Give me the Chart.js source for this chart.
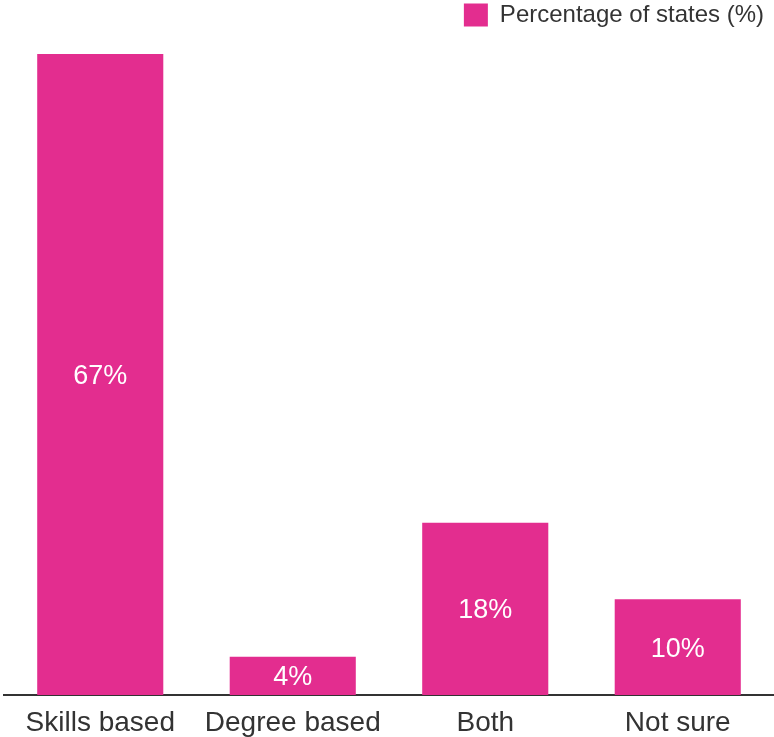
<!DOCTYPE html>
<html>
<head>
<meta charset="utf-8">
<script src="https://cdn.jsdelivr.net/npm/chart.js@4/dist/chart.umd.min.js"></script>
<style>
  html, body { margin: 0; padding: 0; background: #fff; }
  #wrap { width: 774px; height: 737px; }
</style>
</head>
<body>
<div id="wrap"><canvas id="barChart"></canvas></div>
<script>
// Hiring approach survey
const categories = ['Skills based', 'Degree based', 'Both', 'Not sure'];
const shares = [67, 4, 18, 10];
const seriesLabel = 'Percentage of states (%)';

const barColor = '#e32d8f';
const textColor = '#333333';

// white value text centred inside each bar
const insideLabels = {
    id: 'insideLabels',
    afterDatasetsDraw(chart) {
        const ctx = chart.ctx;
        const meta = chart.getDatasetMeta(0);
        ctx.save();
        ctx.fillStyle = '#ffffff';
        ctx.font = '27px "Liberation Sans", Arial, sans-serif';
        ctx.textAlign = 'center';
        ctx.textBaseline = 'middle';
        meta.data.forEach((bar, i) => {
            const mid = (bar.y + bar.base) / 2;
            ctx.fillText(shares[i] + '%', bar.x, mid + 2);
        });
        ctx.restore();
    }
};

// extra room under the legend before the bars start
const legendGap = {
    id: 'legendGap',
    beforeInit(chart) {
        const fit = chart.legend.fit;
        chart.legend.fit = function () {
            fit.bind(chart.legend)();
            this.height += 17;
        };
    }
};

Chart.defaults.font.family = '"Liberation Sans", Arial, sans-serif';
Chart.defaults.color = textColor;

new Chart(document.getElementById('barChart'), {
    type: 'bar',
    data: {
        labels: categories,
        datasets: [{
            label: seriesLabel,
            data: shares,
            backgroundColor: barColor,
            barPercentage: 0.655,
            categoryPercentage: 1
        }]
    },
    options: {
        responsive: true,
        maintainAspectRatio: false,
        animation: false,
        layout: { padding: { left: 4, right: 0, top: -7, bottom: 0 } },
        plugins: {
            legend: {
                align: 'end',
                labels: {
                    boxWidth: 24,
                    boxHeight: 23,
                    padding: 10,
                    font: { size: 24 },
                    color: textColor
                }
            },
            tooltip: { enabled: false }
        },
        scales: {
            x: {
                grid: { display: false, drawTicks: false },
                border: { display: true, color: '#333333', width: 2 },
                ticks: { font: { size: 28, lineHeight: 1 }, color: textColor, padding: 14 },
                afterFit(scale) {
                    scale.height -= 14;
                }
            },
            y: {
                display: false,
                min: 0,
                max: 67
            }
        }
    },
    plugins: [insideLabels, legendGap]
});
</script>
</body>
</html>
